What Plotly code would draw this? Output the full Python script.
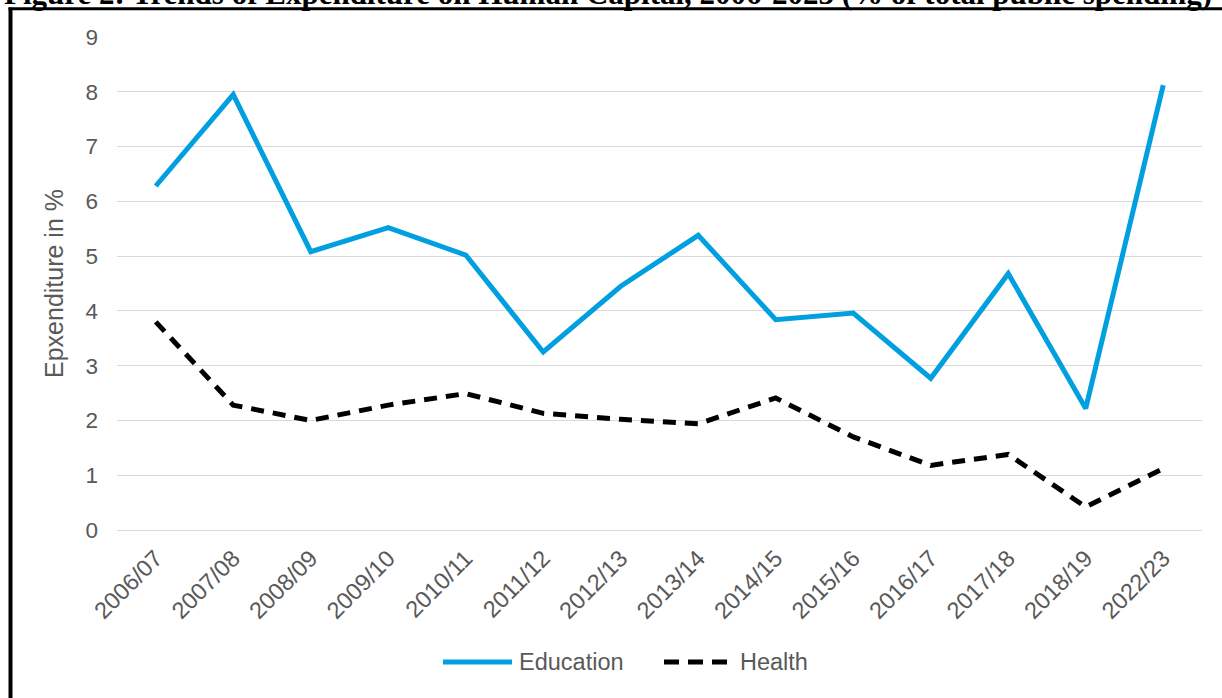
import plotly.graph_objects as go

# Fiscal years and expenditure shares (%)
years = ["2006/07", "2007/08", "2008/09", "2009/10", "2010/11", "2011/12", "2012/13",
         "2013/14", "2014/15", "2015/16", "2016/17", "2017/18", "2018/19", "2022/23"]
education = [6.28, 7.95, 5.08, 5.52, 5.02, 3.25, 4.45, 5.38, 3.84, 3.96, 2.77, 4.68, 2.22, 8.12]
health = [3.80, 2.28, 2.00, 2.28, 2.49, 2.13, 2.02, 1.94, 2.41, 1.70, 1.18, 1.38, 0.42, 1.12]

y_ticks = list(range(0, 10))
title_text = "Figure 2: Trends of Expenditure on Human Capital, 2006-2023 (% of total public spending)"

W, H = 1222, 698
L, R, T, B = 117, 20, 37, 168
PW, PH = W - L - R, H - T - B

EDU_COLOR = "#009FDF"
TEXT_GRAY = "#595959"
GRID = "#D9D9D9"
FONT = "Liberation Sans, Arial, sans-serif"


def px_x(px):
    return (px - L) / PW


def px_y(py):
    return (H - B - py) / PH


fig = go.Figure()
fig.add_trace(go.Scatter(x=years, y=education, mode="lines", name="Education",
                         line=dict(color=EDU_COLOR, width=5), showlegend=False))
fig.add_trace(go.Scatter(x=years, y=health, mode="lines", name="Health",
                         line=dict(color="black", width=5, dash="13px,9px"),
                         showlegend=False))

shapes = [
    # outer frame (left and top edges)
    dict(type="line", xref="paper", yref="paper", x0=px_x(10.5), x1=px_x(10.5),
         y0=px_y(7.5), y1=px_y(720), line=dict(color="black", width=4)),
    dict(type="line", xref="paper", yref="paper", x0=px_x(8.5), x1=px_x(1240),
         y0=px_y(8.7), y1=px_y(8.7), line=dict(color="black", width=3)),
    # legend samples
    dict(type="line", xref="paper", yref="paper", x0=px_x(443), x1=px_x(512),
         y0=px_y(662), y1=px_y(662), line=dict(color=EDU_COLOR, width=5)),
    dict(type="line", xref="paper", yref="paper", x0=px_x(664), x1=px_x(727),
         y0=px_y(662), y1=px_y(662), line=dict(color="black", width=5, dash="15px,9px")),
]

annotations = [
    dict(text="Education", xref="paper", yref="paper", x=px_x(517), y=px_y(662),
         xanchor="left", yanchor="middle", showarrow=False,
         font=dict(family=FONT, size=23.5, color=TEXT_GRAY)),
    dict(text="Health", xref="paper", yref="paper", x=px_x(738), y=px_y(662),
         xanchor="left", yanchor="middle", showarrow=False,
         font=dict(family=FONT, size=23.5, color=TEXT_GRAY)),
    dict(text="<b>" + title_text + "</b>", xref="paper", yref="paper",
         x=px_x(2), y=px_y(13), xanchor="left", yanchor="bottom", showarrow=False,
         font=dict(family="Liberation Serif, Times New Roman, serif", size=31, color="black")),
]

fig.update_layout(
    width=W, height=H,
    margin=dict(l=L, r=R, t=T, b=B),
    paper_bgcolor="white", plot_bgcolor="white",
    showlegend=False,
    shapes=shapes,
    annotations=annotations,
    xaxis=dict(
        type="category", range=[-0.5, len(years) - 0.5],
        showgrid=False, zeroline=False, showline=False, ticks="",
        tickangle=-45, ticklabelstandoff=9,
        tickfont=dict(family=FONT, size=23.5, color=TEXT_GRAY),
    ),
    yaxis=dict(
        range=[0, 9], tickvals=y_ticks, ticktext=[str(v) for v in y_ticks],
        showgrid=True, gridcolor=GRID, gridwidth=1.3,
        zeroline=True, zerolinecolor=GRID, zerolinewidth=1.3,
        showline=False, ticks="", ticklabelstandoff=18,
        tickfont=dict(family=FONT, size=22.5, color=TEXT_GRAY),
        title=dict(text="Epxenditure in %", standoff=14,
                   font=dict(family=FONT, size=25, color=TEXT_GRAY)),
    ),
)

fig.write_html("out.html")
